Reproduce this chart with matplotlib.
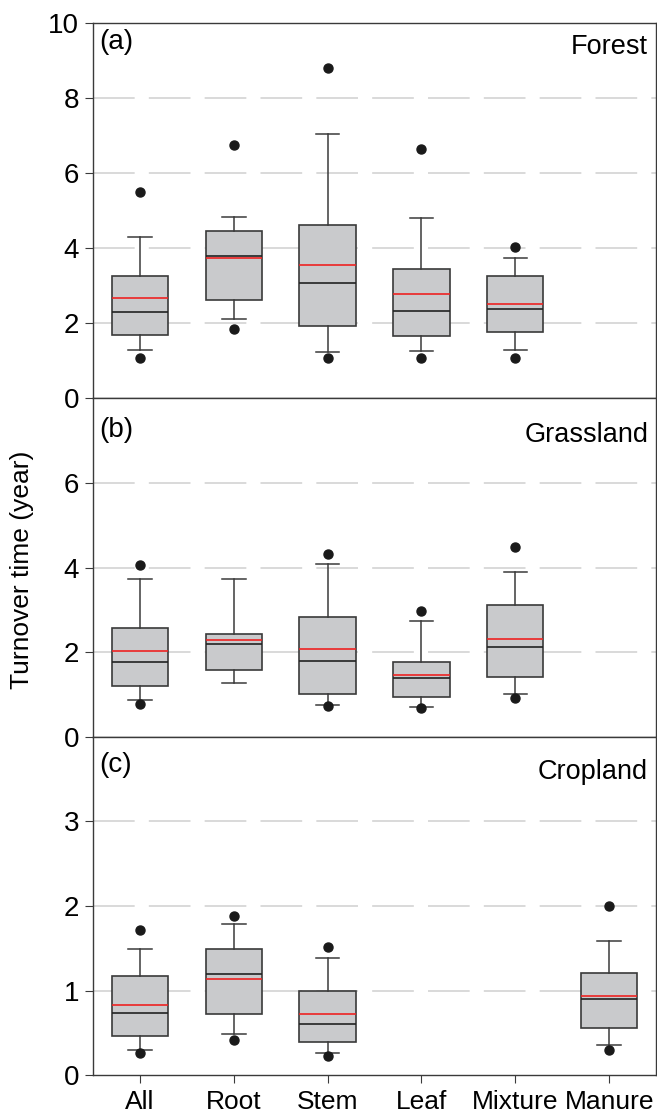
import matplotlib
matplotlib.use("Agg")
import matplotlib.pyplot as plt

plt.rcParams['font.family'] = ['Liberation Sans', 'DejaVu Sans']

categorias = ["All", "Root", "Stem", "Leaf", "Mixture", "Manure"]

# Estadisticos por panel: [p5, p10, q1, mediana, media, q3, p90, p95]  (None = sin datos)
forest = [
    [1.06, 1.27, 1.69, 2.29, 2.66, 3.26, 4.30, 5.50],
    [1.85, 2.10, 2.62, 3.79, 3.73, 4.46, 4.84, 6.74],
    [1.06, 1.24, 1.93, 3.08, 3.55, 4.61, 7.04, 8.80],
    [1.06, 1.26, 1.65, 2.33, 2.78, 3.44, 4.79, 6.64],
    [1.06, 1.28, 1.75, 2.37, 2.51, 3.26, 3.74, 4.04],
    None,
]
grassland = [
    [0.77, 0.87, 1.21, 1.76, 2.03, 2.57, 3.72, 4.07],
    [None, 1.28, 1.57, 2.20, 2.28, 2.44, 3.72, None],
    [0.72, 0.76, 1.02, 1.80, 2.08, 2.82, 4.09, 4.31],
    [0.69, 0.71, 0.94, 1.39, 1.47, 1.76, 2.74, 2.98],
    [0.93, 1.01, 1.41, 2.13, 2.31, 3.12, 3.89, 4.49],
    None,
]
cropland = [
    [0.26, 0.30, 0.46, 0.73, 0.83, 1.17, 1.49, 1.72],
    [0.41, 0.49, 0.72, 1.20, 1.14, 1.49, 1.79, 1.88],
    [0.22, 0.26, 0.39, 0.60, 0.72, 0.99, 1.38, 1.51],
    None,
    None,
    [0.30, 0.36, 0.56, 0.90, 0.94, 1.21, 1.58, 2.00],
]

paneles = [
    ("(a)", "Forest", forest, 10, [0, 2, 4, 6, 8, 10], [2, 4, 6, 8], 0.950, 0.936),
    ("(b)", "Grassland", grassland, 8, [0, 2, 4, 6], [2, 4, 6], 0.906, 0.890),
    ("(c)", "Cropland", cropland, 4, [0, 1, 2, 3], [1, 2, 3], 0.917, 0.896),
]

posiciones_ejes = [
    [0.1416, 0.6443, 0.857, 0.3351],
    [0.1416, 0.3414, 0.857, 0.3029],
    [0.1416, 0.0393, 0.857, 0.3021],
]

borde = "#3a3a3a"
fig = plt.figure(figsize=(6.57, 11.19), dpi=100)

for (letra, nombre, datos, ytop, yticks, grid_y, y_letra, y_nombre), pos in zip(paneles, posiciones_ejes):
    ax = fig.add_axes(pos)
    stats = []
    xs = []
    for i, d in enumerate(datos):
        if d is None:
            continue
        p5, p10, q1, med, media, q3, p90, p95 = d
        fl = [v for v in (p5, p95) if v is not None]
        stats.append(dict(whislo=p10, q1=q1, med=med, mean=media, q3=q3, whishi=p90, fliers=fl))
        xs.append(i + 0.5)

    for gy in grid_y:
        ax.axhline(gy, color="#d3d3d3", lw=1.2, dashes=(25, 8.5), dash_capstyle="butt", zorder=0)

    ax.bxp(stats, positions=xs, widths=0.6, showmeans=True, meanline=True, patch_artist=True,
           boxprops=dict(facecolor="#c9cacc", edgecolor=borde, lw=1.2),
           medianprops=dict(color="#222222", lw=1.2),
           meanprops=dict(color="#ee2222", lw=1.2, linestyle="-"),
           whiskerprops=dict(color=borde, lw=1.1),
           capprops=dict(color=borde, lw=1.1),
           capwidths=0.25,
           flierprops=dict(marker="o", markerfacecolor="#1a1a1a", markeredgecolor="#1a1a1a", markersize=6.5),
           manage_ticks=False, zorder=2)

    ax.set_xlim(0, 6)
    ax.set_ylim(0, ytop)
    ax.set_yticks(yticks)
    ax.set_xticks([i + 0.5 for i in range(len(categorias))])
    if nombre == "Cropland":
        ax.set_xticklabels(categorias, fontsize=19)
    else:
        ax.set_xticklabels([])
    ax.tick_params(axis="y", labelsize=20, direction="out", length=6, color=borde, pad=4)
    ax.tick_params(axis="x", direction="out", length=6, color=borde, pad=5)
    for s in ax.spines.values():
        s.set_color(borde)
        s.set_linewidth(1.0)

    ax.text(0.011, y_letra, letra, transform=ax.transAxes, fontsize=20, ha="left", va="center")
    ax.text(0.986, y_nombre, nombre, transform=ax.transAxes, fontsize=19.5, ha="right", va="center")

fig.text(0.033, 1 - 570 / 1119, "Turnover time (year)", rotation=90, fontsize=19, ha="center", va="center")

fig.savefig("out.png", dpi=100)
